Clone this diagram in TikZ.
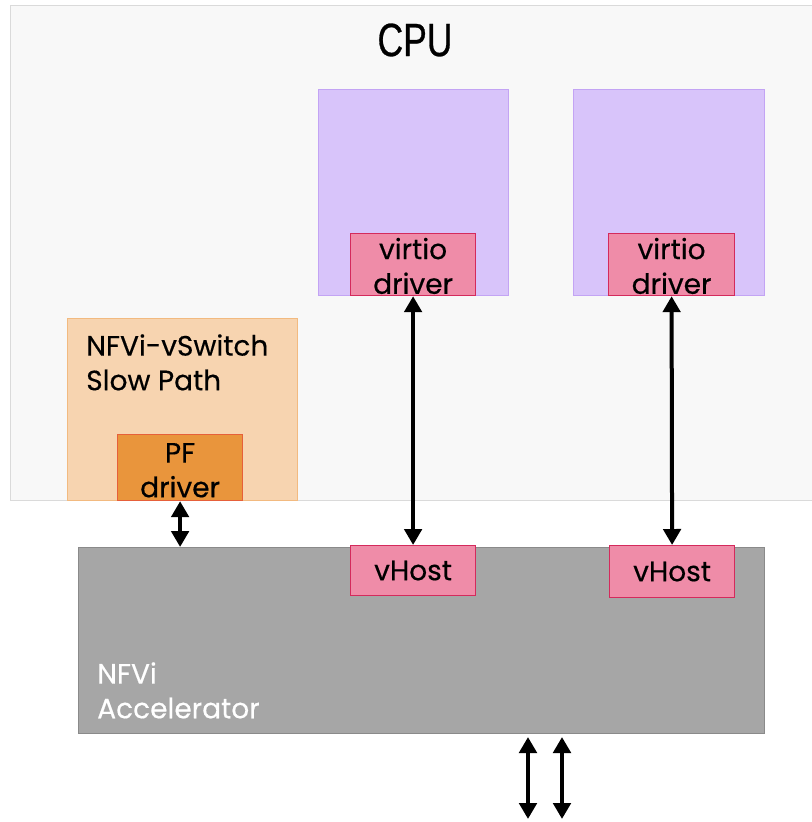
\documentclass[tikz,border=0pt]{standalone}
\usepackage{fontspec}
\setmainfont{Poppins}[FakeBold=0.4]
\newfontfamily\cpufont[FakeStretch=0.76, FakeBold=0.6]{Liberation Sans}
\usetikzlibrary{arrows.meta, positioning}

\definecolor{cpufill}{HTML}{F8F8F8}
\definecolor{cpuline}{HTML}{DADADA}
\definecolor{vmfill}{HTML}{D8C4FA}
\definecolor{vmline}{HTML}{C3A4F4}
\definecolor{drvfill}{HTML}{EF8CA8}
\definecolor{drvline}{HTML}{D42A5C}
\definecolor{swfill}{HTML}{F7D4B0}
\definecolor{swline}{HTML}{F2BA80}
\definecolor{pffill}{HTML}{E9953C}
\definecolor{pfline}{HTML}{E6603A}
\definecolor{accfill}{HTML}{A6A6A6}
\definecolor{accline}{HTML}{8A8A8A}

\begin{document}
\begin{tikzpicture}[x=0.75pt, y=-0.75pt,
	box/.style={draw, line width=0.9pt, inner sep=0pt, anchor=north west},
	tag/.style={font=\fontsize{21}{26}\selectfont, align=center, inner sep=0pt},
	biarrow/.style={{Triangle[width=13pt,length=12pt]}-{Triangle[width=13pt,length=12pt]},
		line width=3pt, black}]

	\useasboundingbox (0,0) rectangle (812,822);

	% CPU with its two VMs
	\node[box, draw=cpuline, fill=cpufill, minimum width=603pt, minimum height=371.25pt] (cpu) at (10,5) {};
	\node[inner sep=0pt, font=\cpufont\fontsize{35}{40}\selectfont] (cpulabel) at (415,40) {CPU};

	\node[box, draw=vmline, fill=vmfill, minimum width=142.5pt, minimum height=154.5pt] (vm1) at (318,89) {};
	\node[box, draw=vmline, fill=vmfill, minimum width=143.25pt, minimum height=154.5pt] (vm2) at (573,89) {};

	\node[box, draw=drvline, fill=drvfill, minimum width=93.75pt, minimum height=46.5pt] (virtio1) at (350,233) {};
	\node[tag] (virtio1text) at ([yshift=-1]virtio1.center) {virtio\\driver};
	\node[box, draw=drvline, fill=drvfill, minimum width=94.5pt, minimum height=46.5pt] (virtio2) at (608,233) {};
	\node[tag] (virtio2text) at ([yshift=-1]virtio2.center) {virtio\\driver};

	% slow path
	\node[box, draw=swline, fill=swfill, minimum width=172.5pt, minimum height=136.5pt] (vswitch) at (67,318) {};
	\node[tag, align=left, anchor=north west] (vswitchtext) at (86,334) {NFVi-vSwitch\\Slow Path};
	\node[box, draw=pfline, fill=pffill, minimum width=93.75pt, minimum height=49.5pt] (pf) at (117,434) {};
	\node[tag] (pftext) at ([yshift=-2]pf.center) {PF\\driver};

	% accelerator
	\node[box, draw=accline, fill=accfill, minimum width=514.5pt, minimum height=139.5pt] (acc) at (78,547) {};
	\node[tag, align=left, anchor=north west, text=white] (acctext) at (97,662) {NFVi\\Accelerator};

	\node[box, draw=drvline, fill=drvfill, minimum width=93.75pt, minimum height=37.5pt] (vhost1) at (350,545) {};
	\node[tag] (vhost1text) at (vhost1.center) {vHost};
	\node[box, draw=drvline, fill=drvfill, minimum width=93.75pt, minimum height=39pt] (vhost2) at (609,545) {};
	\node[tag] (vhost2text) at (vhost2.center) {vHost};

	% links
	\draw[biarrow] (pf.south) -- (pf.south |- acc.north);
	\draw[biarrow] (virtio1.south) -- (vhost1.north);
	\draw[biarrow] (virtio2.south) -- (vhost2.north);

	\coordinate (port1top) at (528,737);
	\coordinate (port1bot) at (528,819);
	\coordinate (port2top) at (562,737);
	\coordinate (port2bot) at (562,819);
	\draw[biarrow] (port1top) -- (port1bot);
	\draw[biarrow] (port2top) -- (port2bot);
\end{tikzpicture}
\end{document}
